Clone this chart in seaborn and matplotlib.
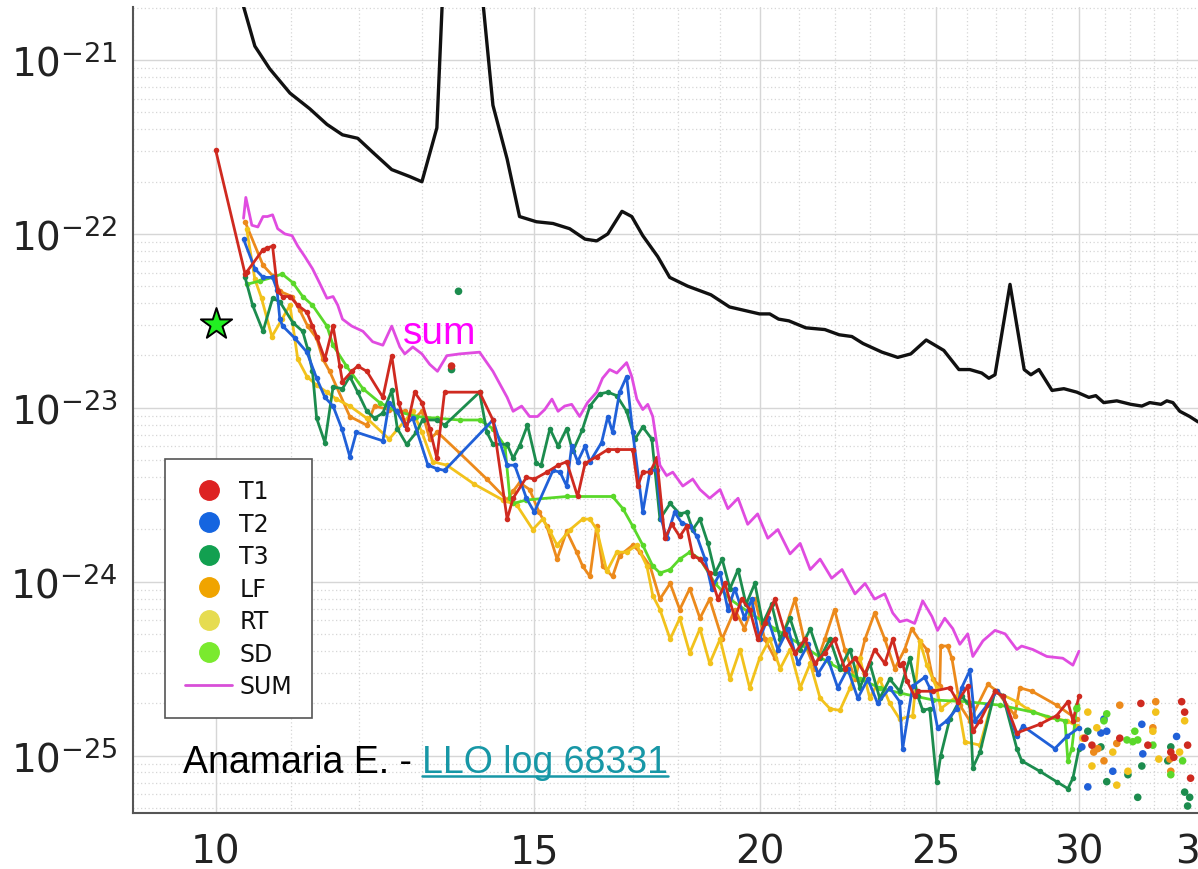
import numpy as np
import matplotlib
matplotlib.use("Agg")
import matplotlib.pyplot as plt
import seaborn as sns
from matplotlib.lines import Line2D
from matplotlib.ticker import FixedLocator, NullFormatter, FuncFormatter

# frequencies in Hz, amplitudes stored as log10 values
ref_hz = [10.30, 10.51, 10.71, 10.99, 11.27, 11.52, 11.75, 11.98, 12.21, 12.51, 12.80, 13.00, 13.25, 13.35, 13.65,
          14.03, 14.23, 14.49, 14.72, 15.04, 15.36, 15.69, 16.00, 16.24, 16.47, 16.77, 16.98, 17.22, 17.55, 17.82,
          18.23, 18.78, 19.23, 19.98, 20.24, 20.47, 20.74, 21.19, 21.71, 22.11, 22.47, 22.79, 23.35, 23.82, 24.22,
          24.70, 25.26, 25.75, 26.11, 26.51, 26.75, 26.96, 27.48, 27.98, 28.22, 28.51, 28.99, 29.43, 29.92, 30.38,
          30.65, 30.96, 31.48, 32.05, 32.50, 32.83, 33.30, 33.55, 33.81, 34.11, 34.54, 34.90, 36.00]
ref_exp = [-20.60, -20.92, -21.05, -21.19, -21.28, -21.37, -21.43, -21.45, -21.53, -21.63, -21.67, -21.70, -21.39, -20.60, -19.50,
           -20.60, -21.26, -21.57, -21.90, -21.93, -21.94, -21.97, -22.03, -22.04, -22.00, -21.87, -21.90, -22.01, -22.13, -22.25,
           -22.30, -22.35, -22.42, -22.46, -22.46, -22.49, -22.50, -22.54, -22.55, -22.58, -22.59, -22.63, -22.68, -22.71, -22.69,
           -22.61, -22.67, -22.78, -22.78, -22.80, -22.83, -22.81, -22.29, -22.78, -22.81, -22.78, -22.90, -22.89, -22.91, -22.94,
           -22.93, -22.97, -22.96, -22.98, -22.99, -22.97, -22.98, -22.96, -22.97, -23.02, -23.05, -23.08, -23.12]

t1_hz = [10.00, 10.38, 10.40, 10.62, 10.68, 10.75, 10.82, 10.89, 10.99, 11.10, 11.23, 11.31, 11.37, 11.49, 11.61, 11.71,
         11.75, 11.89, 11.98, 12.12, 12.37, 12.51, 12.62, 12.75, 12.88, 13.00, 13.13, 13.25, 13.38, 13.99, 14.23, 14.49,
         14.60, 14.85, 15.00, 15.24, 15.46, 15.63, 15.85, 16.00, 16.24, 16.47, 16.66, 17.00, 17.11, 17.22, 17.38, 17.53,
         17.71, 17.87, 18.05, 18.21, 18.35, 18.52, 18.75, 18.95, 19.12, 19.36, 19.53, 19.73, 19.93, 20.11, 20.37, 20.64,
         20.90, 21.17, 21.43, 21.71, 21.98, 22.27, 22.56, 22.85, 23.13, 23.43, 23.67, 23.88, 23.97, 24.10, 24.34, 24.44,
         24.91, 25.45, 25.71, 26.04, 26.21, 26.45, 26.96, 27.24, 27.72, 28.54, 29.16, 29.58, 29.77, 30.00]
t1_exp = [-21.52, -22.23, -22.22, -22.09, -22.08, -22.07, -22.33, -22.36, -22.36, -22.41, -22.45, -22.53, -22.59, -22.72, -22.53, -22.76,
          -22.85, -22.79, -22.76, -22.79, -22.94, -22.70, -22.97, -23.12, -22.91, -22.97, -23.12, -23.29, -22.91, -22.91, -23.07, -23.64,
          -23.52, -23.40, -23.41, -23.37, -23.33, -23.31, -23.51, -23.32, -23.28, -23.24, -23.24, -23.24, -23.45, -23.37, -23.37, -23.29,
          -23.75, -23.67, -23.74, -23.68, -23.85, -23.87, -23.95, -24.10, -24.01, -24.21, -24.10, -24.16, -24.33, -24.24, -24.10, -24.30,
          -24.41, -24.33, -24.47, -24.41, -24.33, -24.50, -24.44, -24.53, -24.39, -24.47, -24.33, -24.48, -24.47, -24.57, -24.66, -24.63,
          -24.63, -24.61, -24.69, -24.60, -24.86, -24.80, -24.63, -24.66, -24.87, -24.82, -24.77, -24.69, -24.80, -24.66]

t2_hz = [10.36, 10.51, 10.62, 10.75, 10.81, 10.85, 10.89, 11.06, 11.23, 11.37, 11.49, 11.61, 11.74, 11.86, 11.96, 12.37,
         12.47, 12.59, 12.72, 12.85, 13.10, 13.25, 13.38, 14.23, 14.49, 14.63, 14.85, 15.00, 15.36, 15.50, 15.63, 15.73,
         15.85, 16.00, 16.10, 16.34, 16.47, 16.57, 16.72, 16.87, 17.00, 17.22, 17.38, 17.53, 17.63, 17.75, 17.93, 18.09,
         18.28, 18.45, 18.64, 18.80, 19.00, 19.19, 19.36, 19.60, 19.78, 19.98, 20.19, 20.45, 20.72, 20.98, 21.25, 21.52,
         21.79, 22.07, 22.35, 22.64, 22.93, 23.22, 23.58, 23.88, 23.97, 24.28, 24.65, 24.81, 25.06, 25.35, 25.68, 25.84,
         26.11, 26.28, 26.69, 27.03, 27.24, 27.72, 27.93, 29.09, 29.54, 30.00]
t2_exp = [-22.03, -22.20, -22.25, -22.25, -22.32, -22.49, -22.53, -22.60, -22.68, -22.83, -22.94, -22.99, -23.12, -23.28, -23.14, -23.19,
          -22.97, -23.02, -23.10, -23.06, -23.33, -23.35, -23.36, -23.07, -23.33, -23.33, -23.52, -23.60, -23.36, -23.37, -23.45, -23.22,
          -23.31, -23.22, -23.31, -23.20, -23.05, -23.14, -22.91, -22.82, -23.14, -23.60, -23.36, -23.36, -23.64, -23.75, -23.60, -23.66,
          -23.68, -23.74, -23.87, -24.04, -23.95, -24.16, -24.04, -24.21, -24.10, -24.33, -24.21, -24.39, -24.27, -24.47, -24.36, -24.53,
          -24.44, -24.61, -24.50, -24.67, -24.56, -24.70, -24.61, -24.69, -24.96, -24.60, -24.55, -24.61, -24.84, -24.80, -24.73, -24.61,
          -24.51, -24.80, -24.71, -24.63, -24.66, -24.89, -24.83, -24.96, -24.89, -24.84]

t3_hz = [10.38, 10.48, 10.62, 10.75, 10.85, 11.03, 11.17, 11.24, 11.31, 11.37, 11.49, 11.61, 11.75, 11.86, 11.98, 12.12,
         12.24, 12.37, 12.51, 12.60, 12.75, 12.91, 13.01, 13.25, 13.38, 13.99, 14.12, 14.23, 14.49, 14.60, 14.72, 14.87,
         15.04, 15.13, 15.30, 15.46, 15.63, 15.75, 15.94, 16.10, 16.30, 16.47, 16.66, 16.87, 17.05, 17.22, 17.42, 17.60,
         17.83, 18.05, 18.21, 18.35, 18.52, 18.71, 18.88, 19.05, 19.24, 19.44, 19.64, 19.86, 20.06, 20.29, 20.51, 20.77,
         21.04, 21.31, 21.58, 21.85, 22.13, 22.42, 22.70, 22.99, 23.28, 23.58, 23.88, 24.19, 24.44, 24.59, 24.81, 25.03,
         25.16, 25.45, 25.84, 26.11, 26.21, 26.45, 26.96, 27.24, 27.72, 27.89, 28.54, 29.16, 29.58, 29.77, 30.00]
t3_exp = [-22.25, -22.41, -22.56, -22.37, -22.39, -22.51, -22.56, -22.66, -22.79, -23.06, -23.20, -22.88, -22.89, -22.82, -22.91, -23.02,
          -23.06, -23.03, -22.90, -23.12, -23.21, -23.14, -23.07, -23.07, -23.10, -22.91, -23.14, -23.21, -23.21, -23.29, -23.22, -23.10,
          -23.32, -23.33, -23.12, -23.22, -23.12, -23.25, -23.13, -22.99, -22.92, -22.91, -22.93, -23.02, -23.18, -23.11, -23.18, -23.64,
          -23.55, -23.61, -23.60, -23.70, -23.64, -23.78, -23.95, -23.87, -24.04, -23.93, -24.13, -24.01, -24.24, -24.13, -24.33, -24.21,
          -24.39, -24.27, -24.44, -24.33, -24.50, -24.39, -24.61, -24.47, -24.67, -24.56, -24.63, -24.44, -24.66, -24.74, -24.73, -25.15,
          -25.00, -24.79, -24.66, -24.71, -25.07, -24.98, -24.63, -24.66, -24.96, -25.03, -25.09, -25.15, -25.19, -25.13, -24.96]

lf_hz = [10.38, 10.62, 10.75, 10.85, 11.02, 11.13, 11.24, 11.37, 11.46, 11.56, 11.86, 12.12, 12.24, 12.47, 12.72, 12.88,
         13.00, 13.13, 13.26, 13.64, 14.12, 14.49, 14.60, 14.72, 14.91, 15.09, 15.24, 15.44, 15.63, 15.83, 15.95, 16.10,
         16.24, 16.36, 16.57, 16.72, 17.00, 17.16, 17.38, 17.60, 17.83, 18.05, 18.28, 18.52, 18.75, 19.05, 19.36, 19.60,
         19.86, 20.11, 20.37, 20.64, 20.90, 21.17, 21.43, 21.71, 21.98, 22.27, 22.56, 22.85, 23.13, 23.43, 23.73, 24.03,
         24.25, 24.50, 24.72, 24.91, 25.13, 25.16, 25.38, 25.52, 25.78, 26.11, 26.72, 27.03, 27.65, 27.82, 28.26, 29.16, 29.92]
lf_exp = [-21.93, -22.18, -22.24, -22.33, -22.36, -22.44, -22.53, -22.60, -22.72, -22.79, -23.05, -23.10, -22.99, -23.01, -23.02, -23.06,
          -23.02, -23.18, -23.14, -23.26, -23.41, -23.53, -23.48, -23.43, -23.47, -23.60, -23.68, -23.87, -23.71, -23.83, -23.91, -23.97,
          -23.68, -23.91, -23.97, -23.85, -23.79, -23.83, -23.91, -24.10, -24.01, -24.16, -24.04, -24.21, -24.10, -24.33, -24.16, -24.27,
          -24.10, -24.33, -24.44, -24.27, -24.10, -24.36, -24.50, -24.33, -24.16, -24.39, -24.56, -24.33, -24.18, -24.33, -24.50, -24.39,
          -24.27, -24.34, -24.39, -24.56, -24.60, -24.37, -24.37, -24.44, -24.71, -24.80, -24.59, -24.63, -24.77, -24.61, -24.63, -24.71, -24.79]

rt_hz = [10.40, 10.51, 10.60, 10.74, 10.88, 10.99, 11.10, 11.23, 11.37, 11.52, 11.66, 11.86, 12.12, 12.47, 12.85, 13.00,
         13.18, 13.42, 13.90, 14.41, 14.67, 14.97, 15.16, 15.30, 15.44, 15.70, 15.95, 16.10, 16.24, 16.45, 16.66, 16.87,
         17.09, 17.31, 17.44, 17.60, 17.83, 18.05, 18.28, 18.52, 18.75, 19.00, 19.24, 19.49, 19.73, 19.98, 20.24, 20.51,
         20.77, 21.04, 21.31, 21.58, 21.85, 22.13, 22.42, 22.70, 22.99, 23.28, 23.58, 23.88, 24.28, 24.50, 24.72, 25.03,
         25.16, 25.68, 25.94, 26.45, 26.96, 27.72, 28.08, 28.80, 29.54, 29.92]
rt_exp = [-21.97, -22.26, -22.37, -22.59, -22.49, -22.41, -22.72, -22.82, -22.87, -22.91, -22.95, -22.99, -23.06, -23.18, -23.02, -23.14,
          -23.31, -23.33, -23.44, -23.53, -23.56, -23.70, -23.64, -23.71, -23.79, -23.70, -23.64, -23.64, -23.70, -23.94, -23.83, -23.83,
          -23.79, -23.91, -24.08, -24.16, -24.33, -24.21, -24.41, -24.27, -24.47, -24.33, -24.56, -24.39, -24.61, -24.44, -24.33, -24.50,
          -24.39, -24.61, -24.47, -24.67, -24.73, -24.74, -24.61, -24.44, -24.67, -24.56, -24.70, -24.79, -24.77, -24.34, -24.48, -24.61,
          -24.73, -24.66, -24.92, -24.94, -24.63, -24.69, -24.73, -24.78, -24.80, -24.83]

sd_hz = [10.40, 10.58, 10.75, 10.88, 11.03, 11.17, 11.31, 11.52, 11.61, 11.81, 12.06, 12.32, 12.59, 12.91, 13.25, 13.64,
         13.99, 14.23, 14.45, 14.54, 14.60, 14.85, 15.63, 16.57, 16.79, 17.00, 17.22, 17.44, 17.60, 17.83, 18.05, 18.28,
         18.52, 18.88, 19.24, 19.73, 20.37, 21.04, 21.85, 22.70, 23.28, 23.88, 24.91, 26.01, 27.13, 28.29, 29.16, 29.47,
         29.58, 29.73, 29.92]
sd_exp = [-22.29, -22.27, -22.25, -22.23, -22.28, -22.36, -22.41, -22.53, -22.64, -22.76, -22.89, -22.97, -23.02, -23.05, -23.06, -23.07,
          -23.07, -23.12, -23.22, -23.52, -23.55, -23.53, -23.51, -23.51, -23.58, -23.68, -23.79, -23.91, -23.95, -23.93, -23.87, -23.83,
          -23.87, -24.01, -24.10, -24.18, -24.27, -24.36, -24.47, -24.56, -24.61, -24.64, -24.68, -24.69, -24.71, -24.75, -24.79, -24.80,
          -25.03, -24.96, -24.71]

sum_hz = [10.36, 10.39, 10.47, 10.55, 10.62, 10.68, 10.75, 10.82, 10.92, 11.02, 11.10, 11.20, 11.31, 11.41, 11.52, 11.61,
          11.68, 11.75, 11.89, 12.06, 12.21, 12.37, 12.51, 12.64, 12.72, 12.85, 13.00, 13.13, 13.26, 13.42, 13.64, 13.99,
          14.12, 14.23, 14.49, 14.60, 14.76, 14.91, 15.06, 15.20, 15.34, 15.46, 15.59, 15.73, 15.89, 16.05, 16.24, 16.36,
          16.51, 16.66, 16.87, 16.98, 17.09, 17.22, 17.33, 17.44, 17.60, 17.75, 17.89, 18.12, 18.35, 18.52, 18.75, 19.00,
          19.19, 19.44, 19.68, 19.93, 20.19, 20.45, 20.77, 21.04, 21.31, 21.58, 21.90, 22.19, 22.56, 22.85, 23.13, 23.43,
          23.67, 23.88, 24.10, 24.34, 24.59, 24.88, 25.06, 25.29, 25.55, 25.78, 26.04, 26.21, 26.55, 26.96, 27.31, 27.72,
          27.89, 28.29, 28.80, 29.39, 29.77, 30.00]
sum_exp = [-21.91, -21.79, -21.95, -21.96, -21.90, -21.90, -21.89, -21.97, -22.00, -22.01, -22.07, -22.13, -22.20, -22.28, -22.37, -22.36,
           -22.41, -22.49, -22.53, -22.56, -22.62, -22.64, -22.53, -22.65, -22.69, -22.65, -22.69, -22.75, -22.79, -22.70, -22.69, -22.68,
           -22.74, -22.79, -22.94, -23.02, -22.99, -23.05, -23.05, -23.01, -22.95, -23.02, -22.99, -22.98, -23.05, -22.97, -22.91, -22.83,
           -22.78, -22.80, -22.74, -22.82, -22.95, -23.01, -22.98, -23.05, -23.33, -23.39, -23.37, -23.45, -23.41, -23.47, -23.52, -23.47,
           -23.58, -23.52, -23.67, -23.61, -23.75, -23.70, -23.84, -23.78, -23.93, -23.87, -23.98, -23.93, -24.07, -24.01, -24.10, -24.07,
           -24.18, -24.23, -24.22, -24.24, -24.11, -24.20, -24.28, -24.21, -24.27, -24.36, -24.30, -24.43, -24.34, -24.28, -24.30, -24.39,
           -24.37, -24.39, -24.43, -24.44, -24.48, -24.40]

# loose points above 30 Hz (and a few stray ones)
dots_t1_hz = [30.23, 30.50, 31.60, 32.46, 32.75, 33.72, 33.85, 34.19, 34.32, 34.45, 34.58, 13.50]
dots_t1_exp = [-24.90, -24.94, -24.90, -24.70, -24.94, -24.98, -25.01, -24.69, -24.75, -24.94, -25.13, -22.76]
dots_lf_hz = [30.57, 30.73, 30.97, 31.48, 31.60, 32.96, 33.08, 33.68, 33.72]
dots_lf_exp = [-24.98, -24.96, -25.03, -24.93, -24.71, -24.84, -24.69, -25.02, -25.09]
dots_rt_hz = [30.15, 30.34, 30.50, 30.69, 31.32, 31.48, 31.93, 32.96, 33.08, 33.21, 34.10, 34.32]
dots_rt_exp = [-24.90, -24.75, -25.06, -24.84, -24.98, -25.17, -25.09, -24.86, -24.75, -25.02, -24.98, -24.80]
dots_t3_hz = [30.34, 30.85, 31.08, 31.93, 32.33, 32.50, 33.59, 33.72, 34.32, 34.45, 34.54, 13.62, 13.50]
dots_t3_exp = [-24.86, -24.95, -25.15, -25.11, -25.24, -25.06, -25.03, -24.95, -25.21, -25.29, -25.24, -22.33, -22.78]
dots_t2_hz = [30.11, 30.34, 30.85, 30.97, 31.08, 31.32, 32.50, 32.54, 33.97]
dots_t2_exp = [-24.95, -25.18, -24.87, -24.79, -24.86, -25.09, -24.82, -24.99, -24.89]
dots_sd_hz = [29.92, 30.97, 31.08, 31.89, 32.13, 32.21, 32.33, 32.96, 33.72, 34.23]
dots_sd_exp = [-24.73, -24.80, -24.76, -24.91, -24.92, -24.86, -24.91, -24.94, -25.11, -25.03]

legend_labels = ["T1", "T2", "T3", "LF", "RT", "SD", "SUM"]
x_majors = [10, 15, 20, 25, 30, 35]
y_decades = [1e-25, 1e-24, 1e-23, 1e-22, 1e-21]

sns.set_style("white")
plt.rcParams['font.family'] = ['DejaVu Sans']

fig = plt.figure(figsize=(11.98, 8.70), dpi=100)
ax = fig.add_axes([0.111, 0.0644, 0.9783, 0.9264])
ax.set_xscale('log')
ax.set_yscale('log')


def amp(e):
    return 10.0 ** np.array(e)


def trace(hz, ex, color, lw=2.0, ms=4.0, z=2):
    sns.lineplot(x=hz, y=amp(ex), color=color, lw=lw, marker='o' if ms else None,
                 markersize=ms, markeredgewidth=0, estimator=None, sort=False,
                 legend=False, ax=ax, zorder=z)


trace(ref_hz, ref_exp, '#111111', lw=2.4, ms=0)
trace(lf_hz, lf_exp, '#ec8a1c')
trace(rt_hz, rt_exp, '#f2c21c')
trace(sd_hz, sd_exp, '#5ad82a')
trace(t3_hz, t3_exp, '#1c8c4e')
trace(t2_hz, t2_exp, '#2060d8')
trace(t1_hz, t1_exp, '#cf2a20')
trace(sum_hz, sum_exp, '#e04ce0', lw=2.0, ms=0, z=3)

for hz, ex, c in [(dots_t3_hz, dots_t3_exp, '#1c8c4e'), (dots_t2_hz, dots_t2_exp, '#2060d8'),
                  (dots_lf_hz, dots_lf_exp, '#ec8a1c'), (dots_rt_hz, dots_rt_exp, '#f2c21c'),
                  (dots_sd_hz, dots_sd_exp, '#5ad82a'), (dots_t1_hz, dots_t1_exp, '#cf2a20')]:
    sns.scatterplot(x=hz, y=amp(ex), color=c, s=30, edgecolor='none', legend=False, ax=ax, zorder=4)

# green star
sns.scatterplot(x=[10.0], y=[10 ** -22.52], marker='*', s=560, color='#22ee22',
                edgecolor='black', linewidth=1.4, legend=False, ax=ax, zorder=6)

ax.set_xlim(9, 40)
ax.set_ylim(10 ** -25.33, 10 ** -20.695)

ax.xaxis.set_major_locator(FixedLocator(x_majors))
ax.xaxis.set_major_formatter(FuncFormatter(lambda v, p: f"{v:g}"))
ax.xaxis.set_minor_locator(FixedLocator([i for i in range(9, 41) if i not in x_majors]))
ax.xaxis.set_minor_formatter(NullFormatter())
ax.yaxis.set_major_locator(FixedLocator(y_decades))
ax.yaxis.set_major_formatter(FuncFormatter(lambda v, p: r"$10^{%d}$" % round(np.log10(v))))
ax.yaxis.set_minor_locator(FixedLocator([m * d for d in [1e-26] + y_decades for m in range(2, 10)
                                         if 10 ** -25.33 < m * d < 10 ** -20.695]))
ax.yaxis.set_minor_formatter(NullFormatter())

ax.tick_params(which='both', direction='in', color='#555555', labelcolor='#222222')
ax.tick_params(which='major', length=9, width=1.3, labelsize=28)
ax.tick_params(which='minor', length=5, width=1.0)
ax.tick_params(axis='x', which='major', pad=14)
ax.tick_params(axis='y', which='major', pad=11)

ax.grid(True, which='major', color='#d6d6d6', lw=1.0, ls='-')
ax.grid(True, which='minor', color='#d6d6d6', lw=0.9, ls=(0, (1, 2)))
ax.set_axisbelow(True)
for s in ['top', 'right']:
    ax.spines[s].set_visible(False)
for s in ['left', 'bottom']:
    ax.spines[s].set_color('#555555')
    ax.spines[s].set_linewidth(1.5)
ax.set_xlabel('')
ax.set_ylabel('')

ax.text(12.69, 10 ** -22.63, "sum", color='#ff00ff', fontsize=28, family='Liberation Sans',
        ha='left', va='baseline', zorder=7)

# legend
leg_colors = ['#dd2222', '#1565e0', '#12a050', '#f0a400', '#e6dc50', '#7aea2e']
handles = [Line2D([], [], ls='none', marker='o', ms=14, color=c, mec=c) for c in leg_colors]
handles.append(Line2D([], [], color='#d84fd8', lw=2))
leg = ax.legend(handles, legend_labels, loc='upper left', bbox_to_anchor=(0.0273, 0.439),
                borderaxespad=0, fontsize=17, frameon=True, fancybox=False, edgecolor='#555555',
                framealpha=1, labelspacing=0.36, handlelength=2.0, handletextpad=0.3, borderpad=0.85)
leg.get_frame().set_linewidth(1.2)
leg.set_zorder(8)
for txt in leg.get_texts():
    txt.set_color('#111111')

# credit line
credit = ax.text(0.0427, 0.0509, "Anamaria E. - ", transform=ax.transAxes, fontsize=27,
                 family='Liberation Sans', color='black', ha='left', va='baseline', zorder=9)
link = ax.annotate("LLO log 68331", xy=(1, 0), xycoords=credit, fontsize=27,
                   family='Liberation Sans', color='#1797a6', ha='left', va='bottom', zorder=9)
fig.canvas.draw()
bb = link.get_window_extent()
inv = fig.transFigure.inverted()
(x0, y0), (x1, _) = inv.transform([(bb.x0, bb.y0 + 4), (bb.x1, bb.y0 + 4)])
fig.add_artist(Line2D([x0, x1], [y0, y0], color='#1797a6', lw=1.8, transform=fig.transFigure))

fig.savefig("out.png", dpi=100)
